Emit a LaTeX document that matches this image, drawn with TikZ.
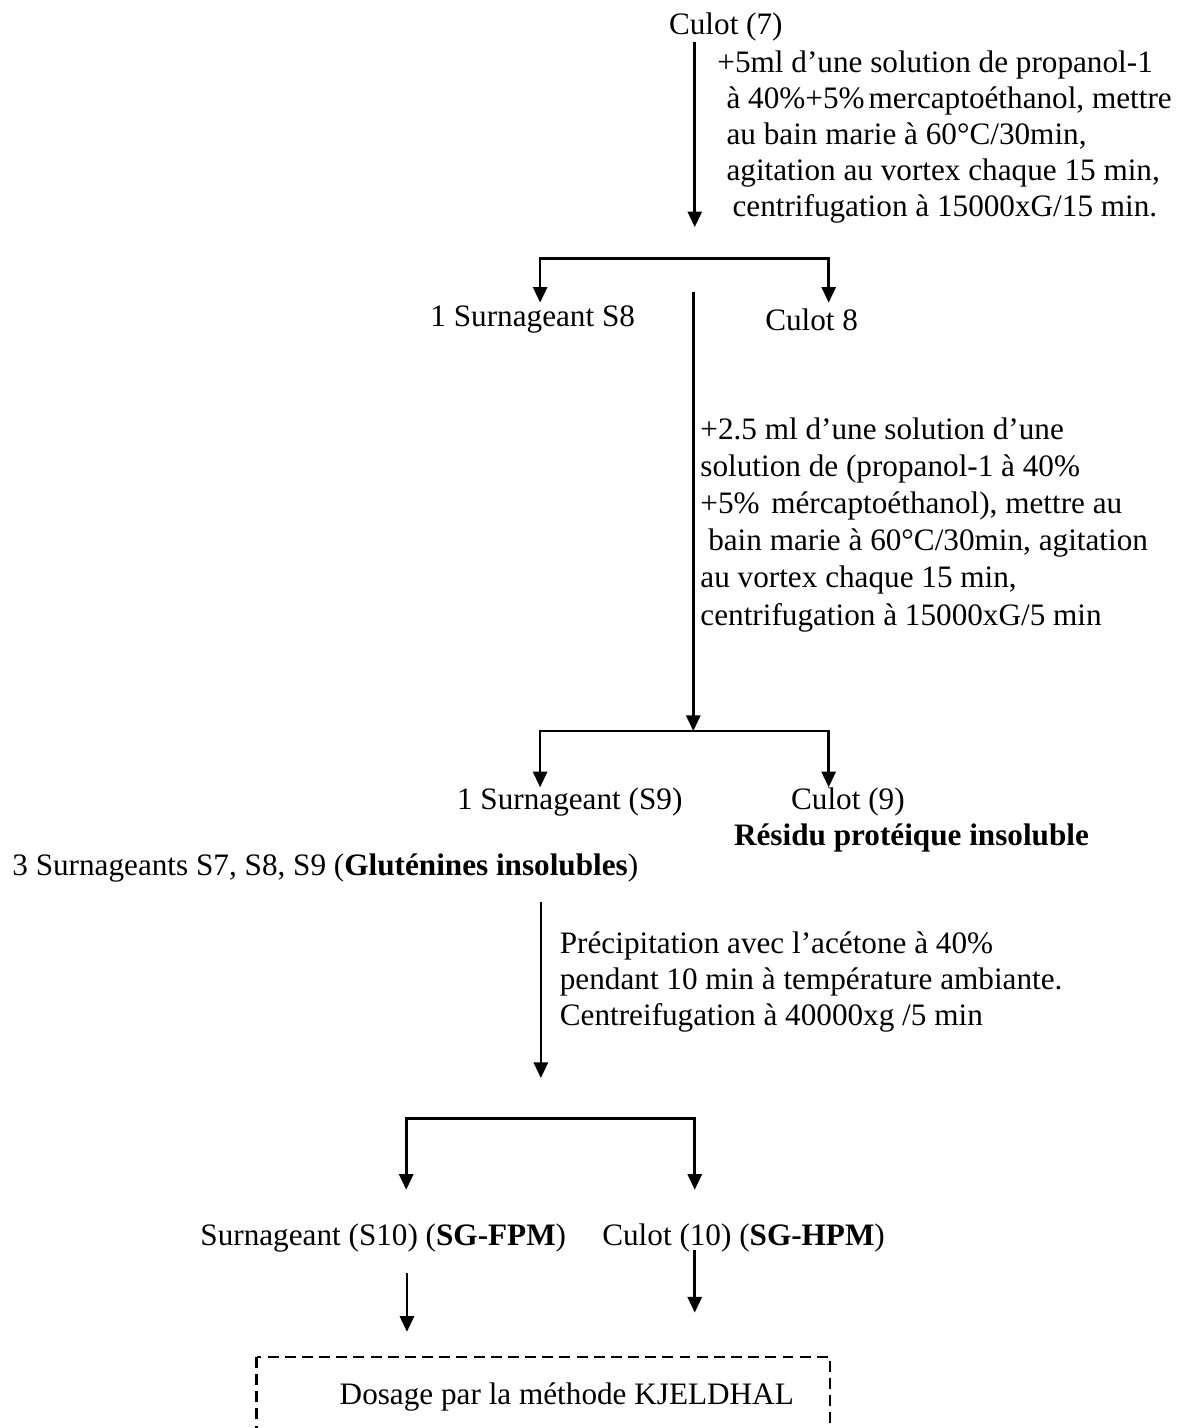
\documentclass[tikz,border=0pt]{standalone}
\usepackage{fontspec}
\setmainfont{Liberation Serif}
\usetikzlibrary{arrows.meta, positioning}

\begin{document}
\begin{tikzpicture}[
    txt/.style={inner sep=0pt, font=\fontsize{12}{13.9}\selectfont},
    note/.style={inner sep=0pt, align=left, anchor=west, font=\fontsize{12}{13.9}\selectfont},
    arrow/.style={line width=1pt, -{Triangle[length=6pt, width=5.4pt]}},
    fork/.style={line width=1pt, {Triangle[length=6pt, width=5.4pt]}-{Triangle[length=6pt, width=5.4pt]}},
    dashbox/.style={line width=1pt, dash pattern=on 4.2pt off 2.4pt}
]

\useasboundingbox (0,0) rectangle (16,-19.3);
\clip (0,0) rectangle (16,-19.3);

% First extraction
\node[txt] (culot7) at (9.81,-0.37) {Culot (7)};
\node[note] (step1) at (9.69,-1.85) {+5ml d’une solution de propanol-1\\
    \hspace*{3.5pt}à 40\%+5\%\hspace{1.5pt}mercaptoéthanol, mettre\\
    \hspace*{3.5pt}au bain marie à 60°C/30min,\\
    \hspace*{3.5pt}agitation au vortex chaque 15 min,\\
    \hspace*{5.8pt}centrifugation à 15000xG/15 min.};
\coordinate (a1end) at (9.39,-3.07);
\draw[arrow] (culot7.south -| a1end) -- (a1end);

\coordinate (fork1) at (9.39,-3.49);
\coordinate (s8in) at (7.30,-4.09);
\coordinate (c8in) at (11.20,-4.09);
\node[txt] (s8) at (7.20,-4.32) {1 Surnageant S8};
\node[txt] (culot8) at (10.97,-4.32) {Culot 8};
\draw[fork] (s8in) |- (fork1) -| (c8in);

% Second extraction
\coordinate (a2start) at (9.37,-3.95);
\coordinate (fork2) at (9.37,-9.88);
\node[note, font=\fontsize{12}{14.3}\selectfont] (step2) at (9.46,-7.09) {+2.5 ml d’une solution d’une\\
    solution de (propanol-1 à 40\%\\
    +5\%\hspace{4.5pt}mércaptoéthanol), mettre au\\
    \hspace*{3pt}bain marie à 60°C/30min, agitation\\
    au vortex chaque 15 min,\\
    centrifugation à 15000xG/5 min};
\draw[arrow] (a2start) -- (fork2);

\coordinate (s9in) at (7.30,-10.64);
\coordinate (c9in) at (11.20,-10.64);
\node[txt] (s9) at (7.70,-10.84) {1 Surnageant (S9)};
\node[txt] (culot9) at (11.46,-10.84) {Culot (9)};
\node[txt, font=\fontsize{12}{13.9}\selectfont\bfseries] (residu) at (12.32,-11.32) {Résidu protéique insoluble};
\draw[fork] (s9in) |- (fork2) -| (c9in);

% Pooled supernatants
\node[txt, anchor=west] (s789) at (0.16,-11.73) {3 Surnageants S7, S8, S9 (\textbf{Gluténines insolubles})};
\coordinate (a3start) at (7.31,-12.19);
\coordinate (a3end) at (7.31,-14.57);
\node[note] (step3) at (7.56,-13.27) {Précipitation avec l’acétone à 40\%\\
    pendant 10 min à température ambiante.\\
    Centreifugation à 40000xg /5 min};
\draw[arrow] (a3start) -- (a3end);

\coordinate (fork3) at (7.31,-15.12);
\coordinate (s10in) at (5.49,-16.08);
\coordinate (c10in) at (9.39,-16.08);
\node[txt] (s10) at (5.18,-16.73) {Surnageant (S10) (\textbf{SG-FPM})};
\node[txt] (culot10) at (10.05,-16.73) {Culot (10) (\textbf{SG-HPM})};
\draw[fork] (s10in) |- (fork3) -| (c10in);

% Dosage
\coordinate (s10out) at (5.50,-17.20);
\coordinate (c10out) at (9.39,-16.89);
\draw[arrow] (s10out) -- ++(0,-0.80);
\draw[arrow] (c10out) -- ++(0,-0.85);
\draw[dashbox] (3.47,-18.34) rectangle (11.22,-19.9);
\node[txt] (kjeldahl) at (7.66,-18.88) {Dosage par la méthode KJELDHAL};

\end{tikzpicture}
\end{document}
